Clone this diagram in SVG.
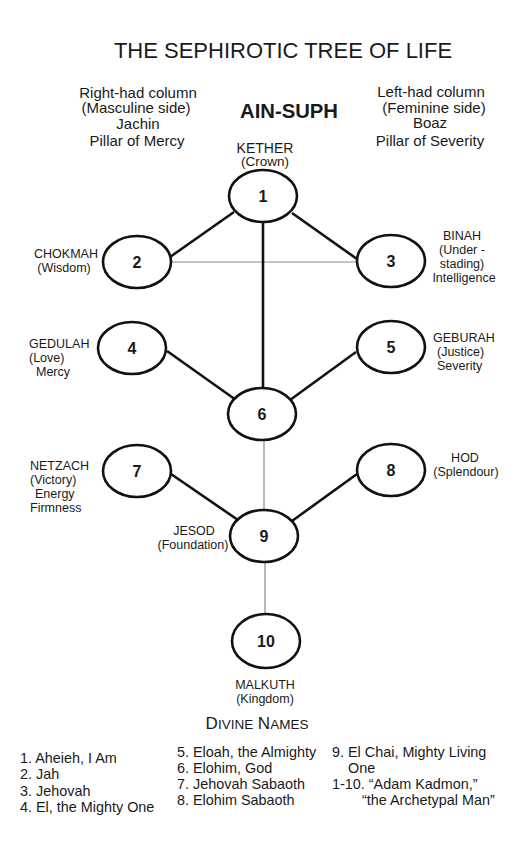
<svg xmlns="http://www.w3.org/2000/svg" width="519" height="850" viewBox="0 0 519 850">
<style>
text{font-family:"Liberation Sans",Arial,sans-serif;fill:#1a1a1a}
.node ellipse{fill:#fff;stroke:#111;stroke-width:2.6}
.num{font-size:16px;font-weight:bold;text-anchor:middle}
.lbl{font-size:12.5px}
.mid{text-anchor:middle}
.col{font-size:15px;text-anchor:middle}
.thick{stroke:#111;stroke-width:2.6;fill:none}
.thin{stroke:#888;stroke-width:1.2;fill:none}
.list{font-size:14.4px}
</style>
<rect width="519" height="850" fill="#fff"/>
<text x="283" y="58" font-size="22" text-anchor="middle">THE SEPHIROTIC TREE OF LIFE</text>
<g class="col">
<text x="138" y="98">Right-had column</text>
<text x="136" y="113">(Masculine side)</text>
<text x="138" y="129">Jachin</text>
<text x="137" y="146">Pillar of Mercy</text>
<text x="431" y="97">Left-had column</text>
<text x="434" y="113">(Feminine side)</text>
<text x="430" y="128">Boaz</text>
<text x="430" y="146">Pillar of Severity</text>
</g>
<text x="289" y="118" font-size="21" font-weight="bold" text-anchor="middle" textLength="98" lengthAdjust="spacingAndGlyphs">AIN-SUPH</text>
<g id="connectors">
<line class="thick" x1="234" y1="212" x2="170" y2="257"/>
<line class="thick" x1="292" y1="213" x2="357" y2="259"/>
<line class="thin" x1="171" y1="262" x2="357" y2="262"/>
<line class="thick" x1="263" y1="222" x2="263" y2="389"/>
<line class="thick" x1="167" y1="351" x2="236" y2="400"/>
<line class="thick" x1="356" y1="352" x2="290" y2="400"/>
<line class="thin" x1="264" y1="440" x2="264" y2="510"/>
<line class="thick" x1="171" y1="474" x2="238" y2="520"/>
<line class="thick" x1="357" y1="474" x2="292" y2="521"/>
<line class="thin" x1="265" y1="562" x2="265" y2="615"/>
</g>
<g id="n1" class="node"><ellipse cx="263" cy="196" rx="34" ry="26"/><text class="num" x="263" y="202">1</text>
<text x="265" y="153" font-size="14" text-anchor="middle">KETHER</text><text x="265" y="166" font-size="13.5" text-anchor="middle">(Crown)</text></g>
<g id="n2" class="node"><ellipse cx="137" cy="262" rx="34" ry="26"/><text class="num" x="137" y="268">2</text>
<text class="lbl mid" x="66" y="258">CHOKMAH</text><text class="lbl mid" x="64" y="272">(Wisdom)</text></g>
<g id="n3" class="node"><ellipse cx="391" cy="261" rx="34" ry="26"/><text class="num" x="391" y="267">3</text>
<text class="lbl mid" x="462" y="240">BINAH</text><text class="lbl mid" x="462" y="254">(Under -</text><text class="lbl mid" x="462" y="268">stading)</text><text class="lbl mid" x="464" y="282">Intelligence</text></g>
<g id="n4" class="node"><ellipse cx="132" cy="348" rx="34" ry="26"/><text class="num" x="132" y="354">4</text>
<text class="lbl" x="29" y="348">GEDULAH</text><text class="lbl" x="29" y="362">(Love)</text><text class="lbl" x="36" y="376">Mercy</text></g>
<g id="n5" class="node"><ellipse cx="391" cy="347" rx="34" ry="26"/><text class="num" x="391" y="353">5</text>
<text class="lbl" x="433" y="342">GEBURAH</text><text class="lbl" x="437" y="356">(Justice)</text><text class="lbl" x="437" y="370">Severity</text></g>
<g id="n6" class="node"><ellipse cx="262" cy="414" rx="34" ry="26"/><text class="num" x="262" y="420">6</text></g>
<g id="n7" class="node"><ellipse cx="137" cy="471" rx="34" ry="26"/><text class="num" x="137" y="477">7</text>
<text class="lbl" x="30" y="470">NETZACH</text><text class="lbl" x="30" y="484">(Victory)</text><text class="lbl" x="35" y="498">Energy</text><text class="lbl" x="30" y="512">Firmness</text></g>
<g id="n8" class="node"><ellipse cx="391" cy="470" rx="34" ry="26"/><text class="num" x="391" y="476">8</text>
<text class="lbl mid" x="465" y="462">HOD</text><text class="lbl mid" x="466" y="476">(Splendour)</text></g>
<g id="n9" class="node"><ellipse cx="264" cy="536" rx="34" ry="26"/><text class="num" x="264" y="542">9</text>
<text class="lbl mid" x="194" y="535">JESOD</text><text class="lbl mid" x="193" y="549">(Foundation)</text></g>
<g id="n10" class="node"><ellipse cx="266" cy="641" rx="34" ry="27"/><text class="num" x="266" y="647">10</text>
<text class="lbl mid" x="265" y="689">MALKUTH</text><text class="lbl mid" x="265" y="703">(Kingdom)</text></g>
<text x="257" y="729" text-anchor="middle" font-size="17"><tspan>D</tspan><tspan font-size="13.5">IVINE</tspan> N<tspan font-size="13.5">AMES</tspan></text>
<g class="list">
<text x="20" y="763">1. Aheieh, I Am</text>
<text x="20" y="779">2. Jah</text>
<text x="20" y="796">3. Jehovah</text>
<text x="20" y="812">4. El, the Mighty One</text>
<text x="177" y="757">5. Eloah, the Almighty</text>
<text x="177" y="773">6. Elohim, God</text>
<text x="177" y="789">7. Jehovah Sabaoth</text>
<text x="177" y="805">8. Elohim Sabaoth</text>
<text x="332" y="757">9. El Chai, Mighty Living</text>
<text x="348" y="773">One</text>
<text x="332" y="789">1-10. “Adam Kadmon,”</text>
<text x="362" y="805">“the Archetypal Man”</text>
</g>
</svg>
